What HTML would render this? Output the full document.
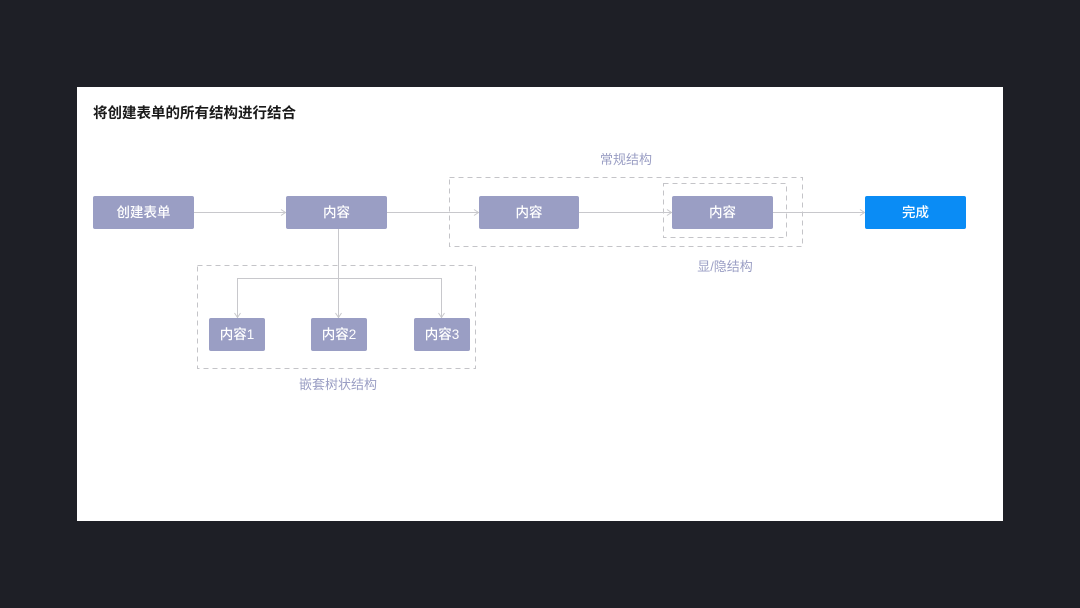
<!DOCTYPE html>
<html>
<head>
<meta charset="utf-8">
<style>
html,body{margin:0;padding:0;}
body{width:1080px;height:608px;background:#1e1f26;overflow:hidden;position:relative;font-family:"Liberation Sans","Noto Sans CJK SC",sans-serif;}
svg{position:absolute;left:0;top:0;}
</style>
</head>
<body>
<svg width="1080" height="608" viewBox="0 0 1080 608" xmlns="http://www.w3.org/2000/svg" font-family="Liberation Sans, Noto Sans CJK SC, sans-serif">
  <rect x="77" y="87" width="926" height="434" fill="#ffffff"/>
  <text x="93" y="118" font-size="14.5" font-weight="bold" fill="#1a1a1a">将创建表单的所有结构进行结合</text>

  <!-- dashed groups -->
  <rect x="449.5" y="177.5" width="353" height="69" fill="none" stroke="#c4c4c8" stroke-width="1" stroke-dasharray="5,4"/>
  <rect x="663.5" y="183.5" width="123" height="54" fill="none" stroke="#c4c4c8" stroke-width="1" stroke-dasharray="5,4"/>
  <rect x="197.5" y="265.5" width="278" height="103" fill="none" stroke="#c4c4c8" stroke-width="1" stroke-dasharray="5,4"/>

  <!-- connectors -->
  <g stroke="#c8c8cc" stroke-width="1" fill="none">
    <line x1="194" y1="212.5" x2="286" y2="212.5"/>
    <polyline points="281,209.5 285.5,212.5 281,215.5"/>
    <line x1="387" y1="212.5" x2="479" y2="212.5"/>
    <polyline points="474,209.5 478.5,212.5 474,215.5"/>
    <line x1="579" y1="212.5" x2="672" y2="212.5"/>
    <polyline points="667,209.5 671.5,212.5 667,215.5"/>
    <line x1="773" y1="212.5" x2="865" y2="212.5"/>
    <polyline points="860,209.5 864.5,212.5 860,215.5"/>

    <line x1="338.5" y1="229" x2="338.5" y2="318"/>
    <polyline points="335.5,313 338.5,317.5 341.5,313"/>
    <polyline points="237.5,318 237.5,278.5 441.5,278.5 441.5,318"/>
    <polyline points="234.5,313 237.5,317.5 240.5,313"/>
    <polyline points="438.5,313 441.5,317.5 444.5,313"/>
  </g>

  <!-- nodes -->
  <g fill="#9a9ec4">
    <rect x="93" y="196" width="101" height="33" rx="2"/>
    <rect x="286" y="196" width="101" height="33" rx="2"/>
    <rect x="479" y="196" width="100" height="33" rx="2"/>
    <rect x="672" y="196" width="101" height="33" rx="2"/>
    <rect x="209" y="318" width="56" height="33" rx="2"/>
    <rect x="311" y="318" width="56" height="33" rx="2"/>
    <rect x="414" y="318" width="56" height="33" rx="2"/>
  </g>
  <rect x="865" y="196" width="101" height="33" rx="2" fill="#0a8cf5"/>

  <g fill="#ffffff" font-size="13.5" text-anchor="middle" font-weight="500">
    <text x="143.5" y="217">创建表单</text>
    <text x="336.5" y="217">内容</text>
    <text x="529" y="217">内容</text>
    <text x="722.5" y="217">内容</text>
    <text x="915.5" y="217">完成</text>
    <text x="237" y="339">内容1</text>
    <text x="339" y="339">内容2</text>
    <text x="442" y="339">内容3</text>
  </g>

  <g fill="#9a9ec4" font-size="13" text-anchor="middle">
    <text x="626" y="164">常规结构</text>
    <text x="725" y="271">显/隐结构</text>
    <text x="338" y="389">嵌套树状结构</text>
  </g>
</svg>
</body>
</html>
